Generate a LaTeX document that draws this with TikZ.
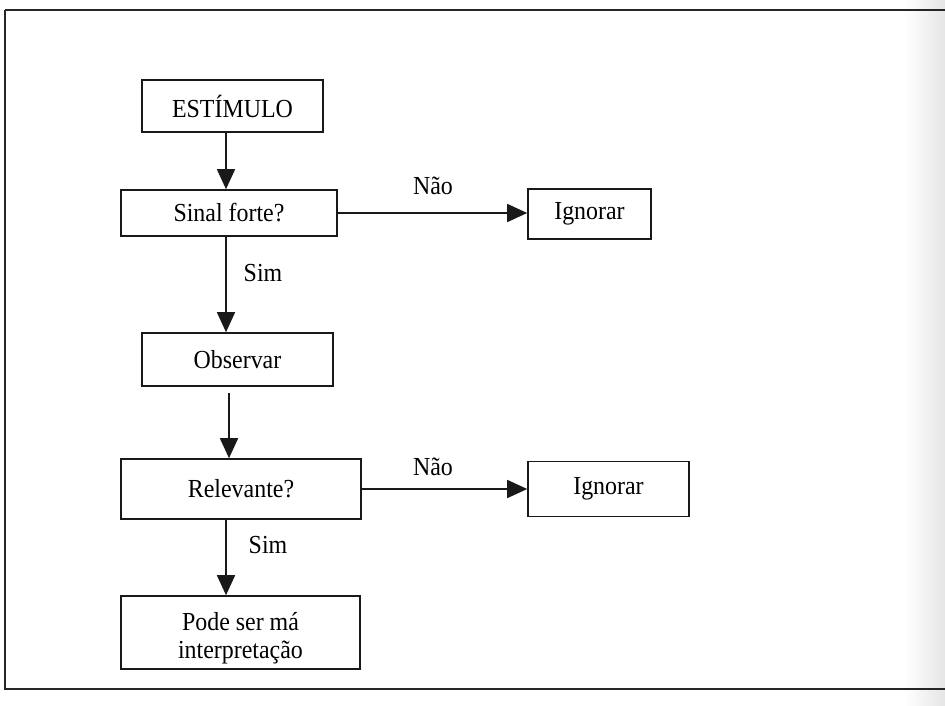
\documentclass[tikz,border=0pt]{standalone}
\usepackage{fontspec}
\setmainfont{Liberation Serif}[FakeStretch=0.92]
\usetikzlibrary{arrows.meta,calc}

\begin{document}
\begin{tikzpicture}[x=1pt,y=-1pt,
  box/.style={draw=black!90,line width=1.6pt,inner sep=0pt,align=center,
              font=\fontsize{26}{28}\selectfont},
  flow/.style={draw=black!90,line width=1.6pt,
               -{Triangle[length=20pt,width=18pt]}},
  lbl/.style={font=\fontsize{26}{28}\selectfont}]

  % page area and scan shadow at the right edge
  \useasboundingbox (0,0) rectangle (945,706);
  \fill[white] (0,0) rectangle (945,706);
  \shade[left color=white,right color=black!10] (905,0) rectangle (945,706);

  % frame around the figure (runs off the right edge)
  \draw[black!85,line width=1.8pt] (945,10) -- (5,10);
  \draw[black!85,line width=1.3pt] (5,10) -- (5,689) -- (945,689);

  % boxes
  \node[box,minimum width=181pt,minimum height=52pt] (est) at (232.5,106) {ESTÍMULO};
  \node[box,minimum width=216pt,minimum height=46pt] (sin) at (229,213) {Sinal forte?};
  \node[box,minimum width=123pt,minimum height=50pt] (ign1) at (589.5,214) {Ignorar};
  \node[box,minimum width=191pt,minimum height=53pt] (obs) at (237.5,359.5) {Observar};
  \node[box,minimum width=240pt,minimum height=60pt] (rel) at (241,489) {Relevante?};
  \node[box,minimum width=161pt,minimum height=55pt] (ign2) at (608.5,489) {Ignorar};
  \node[box,minimum width=239pt,minimum height=73pt] (pod) at (240.5,632.5)
       {\rule{0pt}{30pt}Pode ser má\\interpretação};

  % vertical spines of the flow
  \coordinate (spineA) at (226,0);
  \coordinate (spineB) at (229,0);

  % connectors
  \draw[flow] (spineA |- est.south) -- (spineA |- sin.north);
  \draw[flow] (spineA |- sin.south) -- (spineA |- obs.north);
  \draw[flow,shorten <=6pt] (spineB |- obs.south) -- (spineB |- rel.north);
  \draw[flow] (spineA |- rel.south) -- (spineA |- pod.north);
  \draw[flow] (sin.east) -- (sin.east -| ign1.west);
  \draw[flow] (rel.east) -- (rel.east -| ign2.west);

  % branch labels
  \node[lbl] (nao1) at (433,186) {Não};
  \node[lbl] (sim1) at (263,273) {Sim};
  \node[lbl] (nao2) at (433,467) {Não};
  \node[lbl] (sim2) at (268,545) {Sim};
\end{tikzpicture}
\end{document}
